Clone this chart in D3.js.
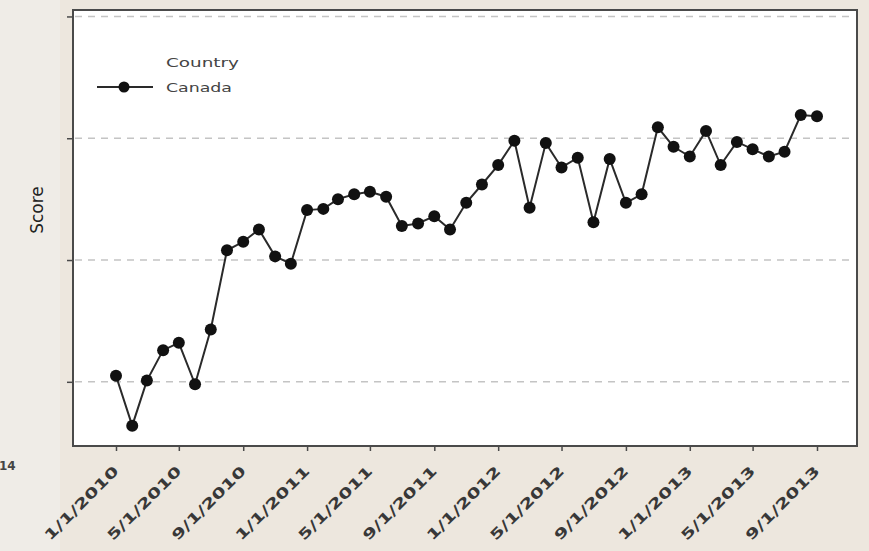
<!DOCTYPE html>
<html>
<head>
<meta charset="utf-8">
<script src="https://cdn.jsdelivr.net/npm/d3@7"></script>
<style>
  html, body { margin: 0; padding: 0; background: #ede7de; }
  svg { display: block; }
</style>
</head>
<body>
<svg id="chart" width="869" height="551"></svg>
<script>
const months = [
  "2010-01","2010-02","2010-03","2010-04","2010-05","2010-06","2010-07","2010-08","2010-09","2010-10","2010-11","2010-12",
  "2011-01","2011-02","2011-03","2011-04","2011-05","2011-06","2011-07","2011-08","2011-09","2011-10","2011-11","2011-12",
  "2012-01","2012-02","2012-03","2012-04","2012-05","2012-06","2012-07","2012-08","2012-09","2012-10","2012-11","2012-12",
  "2013-01","2013-02","2013-03","2013-04","2013-05","2013-06","2013-07","2013-08","2013-09"
];
const canadaScores = [
  1.05, 0.64, 1.01, 1.26, 1.32, 0.98, 1.43, 2.08, 2.15, 2.25, 2.03, 1.97,
  2.41, 2.42, 2.50, 2.54, 2.56, 2.52, 2.28, 2.30, 2.36, 2.25, 2.47, 2.62,
  2.78, 2.98, 2.43, 2.96, 2.76, 2.84, 2.31, 2.83, 2.47, 2.54, 3.09, 2.93,
  2.85, 3.06, 2.78, 2.97, 2.91, 2.85, 2.89, 3.19, 3.18
];
const yTicks = [1, 2, 3, 4];
const xTickMonths = ["2010-01","2010-05","2010-09","2011-01","2011-05","2011-09","2012-01","2012-05","2012-09","2013-01","2013-05","2013-09"];
const seriesName = "Canada";
const legendTitle = "Country";
const yLabel = "Score";

const parse = d3.timeParse("%Y-%m");
const data = months.map((m, i) => ({ date: parse(m), value: canadaScores[i] }));

const svg = d3.select("#chart");
const plot = { left: 73, right: 857, top: 10, bottom: 446 };

svg.append("rect").attr("width", 869).attr("height", 551).attr("fill", "#ede7de");
svg.append("rect").attr("width", 60).attr("height", 551).attr("fill", "#efece7");

const x = d3.scaleTime()
  .domain([parse("2010-01"), parse("2013-09")])
  .range([116, 817]);
const y = d3.scaleLinear()
  .domain([0.473, 4.053])
  .range([plot.bottom, plot.top]);

// plot background
svg.append("rect")
  .attr("x", plot.left).attr("y", plot.top)
  .attr("width", plot.right - plot.left).attr("height", plot.bottom - plot.top)
  .attr("fill", "#ffffff");

// gridlines
svg.append("g").selectAll("line").data(yTicks).join("line")
  .attr("x1", plot.left + 2).attr("x2", plot.right - 2)
  .attr("y1", d => y(d)).attr("y2", d => y(d))
  .attr("stroke", "#c4c4c4").attr("stroke-width", 1.5)
  .attr("stroke-dasharray", "7,6");

// border
svg.append("rect")
  .attr("x", plot.left).attr("y", plot.top)
  .attr("width", plot.right - plot.left).attr("height", plot.bottom - plot.top)
  .attr("fill", "none").attr("stroke", "#4a4a4a").attr("stroke-width", 2);

// y axis (ticks only)
const yAxis = svg.append("g")
  .attr("transform", `translate(${plot.left},0)`)
  .call(d3.axisLeft(y).tickValues(yTicks).tickSize(6).tickFormat(""));
yAxis.select(".domain").remove();
yAxis.selectAll(".tick line").attr("stroke", "#4a4a4a").attr("stroke-width", 1.5);

// x axis
const xAxis = svg.append("g")
  .attr("transform", `translate(0,${plot.bottom})`)
  .call(d3.axisBottom(x).tickValues(xTickMonths.map(parse)).tickSize(5).tickFormat(d3.timeFormat("%-m/%-d/%Y")));
xAxis.select(".domain").remove();
xAxis.selectAll(".tick line").attr("stroke", "#4a4a4a").attr("stroke-width", 1.5);
xAxis.selectAll(".tick text")
  .attr("font-family", "DejaVu Sans, sans-serif")
  .attr("font-size", 14)
  .attr("font-weight", "bold")
  .attr("fill", "#383838")
  .attr("text-anchor", "end")
  .attr("dy", null)
  .attr("y", null)
  .attr("textLength", 98)
  .attr("lengthAdjust", "spacingAndGlyphs")
  .attr("transform", "translate(3,26) rotate(-45)");

// line
const line = d3.line().x(d => x(d.date)).y(d => y(d.value));
svg.append("path").datum(data)
  .attr("d", line)
  .attr("fill", "none")
  .attr("stroke", "#2a2a2a")
  .attr("stroke-width", 2);

svg.append("g").selectAll("circle").data(data).join("circle")
  .attr("cx", d => x(d.date)).attr("cy", d => y(d.value))
  .attr("r", 6).attr("fill", "#111");

// legend
const lg = svg.append("g");
lg.append("text").attr("x", 166).attr("y", 67).text(legendTitle)
  .attr("font-family", "DejaVu Sans, sans-serif").attr("font-size", 13).attr("fill", "#444")
  .attr("textLength", 73).attr("lengthAdjust", "spacingAndGlyphs");
lg.append("line").attr("x1", 97).attr("x2", 153).attr("y1", 87).attr("y2", 87)
  .attr("stroke", "#2a2a2a").attr("stroke-width", 2);
lg.append("circle").attr("cx", 124).attr("cy", 87).attr("r", 5.5).attr("fill", "#111");
lg.append("text").attr("x", 166).attr("y", 92).text(seriesName)
  .attr("font-family", "DejaVu Sans, sans-serif").attr("font-size", 13).attr("fill", "#444")
  .attr("textLength", 66).attr("lengthAdjust", "spacingAndGlyphs");

// y label
svg.append("text")
  .attr("transform", `translate(43,${(plot.top + plot.bottom) / 2 - 18}) rotate(-90)`)
  .attr("text-anchor", "middle")
  .attr("font-family", "DejaVu Sans, sans-serif")
  .attr("font-size", 17)
  .attr("fill", "#222")
  .text(yLabel);

// stray fragment at lower left
svg.append("text").attr("x", -1).attr("y", 470).text("14")
  .attr("font-family", "DejaVu Sans, sans-serif").attr("font-size", 12)
  .attr("font-weight", "bold").attr("fill", "#444");
</script>
</body>
</html>
